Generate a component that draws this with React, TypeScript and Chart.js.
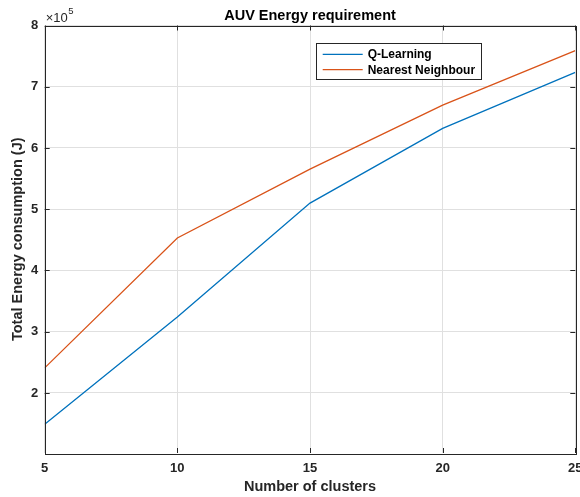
import React, { useEffect, useRef } from "react";
import { Chart, registerables } from "chart.js";

Chart.register(...registerables);

const clusters = [5, 10, 15, 20, 25];
const qLearning = [1.49, 3.24, 5.1, 6.32, 7.235];
const nearestNeighbour = [2.41, 4.53, 5.655, 6.7, 7.59];
const yTicks = [2, 3, 4, 5, 6, 7, 8];
const xTicks = [5, 10, 15, 20, 25];
const seriesNames = ["Q-Learning", "Nearest Neighbour"];
const seriesColors = ["#0072BD", "#D95319"];

const FONT = "'Liberation Sans', Arial, Helvetica, sans-serif";
const AX = "#262626";

const framePlugin = {
  id: "frame",
  afterDraw(chart: any) {
    const { ctx, chartArea: a, scales } = chart;
    const xs = scales.x;
    const ys = scales.y;
    ctx.save();
    // box
    ctx.strokeStyle = AX;
    ctx.lineWidth = 1;
    ctx.strokeRect(Math.round(a.left) + 0.5, Math.round(a.top) + 0.5, Math.round(a.right - a.left), Math.round(a.bottom - a.top));
    // inward ticks
    const tl = 5;
    ctx.beginPath();
    xTicks.forEach((v) => {
      const px = Math.round(xs.getPixelForValue(v)) + 0.5;
      ctx.moveTo(px, a.bottom);
      ctx.lineTo(px, a.bottom - tl);
      ctx.moveTo(px, a.top);
      ctx.lineTo(px, a.top + tl);
    });
    yTicks.forEach((v) => {
      const py = Math.round(ys.getPixelForValue(v)) + 0.5;
      ctx.moveTo(a.left, py);
      ctx.lineTo(a.left + tl, py);
      ctx.moveTo(a.right, py);
      ctx.lineTo(a.right - tl, py);
    });
    ctx.stroke();

    // title
    ctx.fillStyle = "#000";
    ctx.font = `bold 14.5px ${FONT}`;
    ctx.textAlign = "center";
    ctx.textBaseline = "alphabetic";
    ctx.fillText("AUV Energy requirement", (a.left + a.right) / 2, 20);

    // exponent label
    ctx.fillStyle = AX;
    ctx.textAlign = "left";
    ctx.font = `13px ${FONT}`;
    ctx.fillText("\u00d710", a.left + 1, 21.7);
    const w = ctx.measureText("\u00d710").width;
    ctx.font = `9.5px ${FONT}`;
    ctx.fillText("5", a.left + 1 + w + 0.5, 14);

    // legend
    const lx = 316.5, ly = 43.5, lw = 165, lh = 36;
    ctx.fillStyle = "#fff";
    ctx.fillRect(lx, ly, lw, lh);
    ctx.strokeStyle = AX;
    ctx.lineWidth = 1;
    ctx.strokeRect(lx, ly, lw, lh);
    const rows = [54.3, 69.7];
    seriesNames.forEach((name, i) => {
      ctx.strokeStyle = seriesColors[i];
      ctx.lineWidth = 1.3;
      ctx.beginPath();
      ctx.moveTo(322.7, rows[i]);
      ctx.lineTo(362.7, rows[i]);
      ctx.stroke();
      ctx.fillStyle = "#000";
      ctx.font = `bold 12px ${FONT}`;
      ctx.textAlign = "left";
      ctx.textBaseline = "middle";
      ctx.fillText(name, 367.7, rows[i] + 0.5);
    });
    ctx.restore();
  },
};

export default function App() {
  const ref = useRef<HTMLCanvasElement>(null);
  useEffect(() => {
    document.body.style.margin = "0";
    const canvas = ref.current!;
    const chart = new Chart(canvas, {
      type: "line",
      data: {
        datasets: [
          {
            label: seriesNames[0],
            data: clusters.map((x, i) => ({ x, y: qLearning[i] })),
            borderColor: seriesColors[0],
            borderWidth: 1.3,
            pointRadius: 0,
            fill: false,
            tension: 0,
          },
          {
            label: seriesNames[1],
            data: clusters.map((x, i) => ({ x, y: nearestNeighbour[i] })),
            borderColor: seriesColors[1],
            borderWidth: 1.3,
            pointRadius: 0,
            fill: false,
            tension: 0,
          },
        ],
      },
      options: {
        responsive: false,
        animation: false,
        devicePixelRatio: 1,
        layout: { padding: { top: 25.5, right: 4.7, left: 0, bottom: 0 } },
        plugins: {
          legend: { display: false },
          tooltip: { enabled: false },
          title: { display: false },
        },
        scales: {
          x: {
            type: "linear",
            min: 5,
            max: 25,
            afterBuildTicks: (s: any) => {
              s.ticks = xTicks.map((v) => ({ value: v }));
            },
            afterFit: (s: any) => {
              s.height = 44;
              s.paddingLeft = 0;
              s.paddingRight = 0;
            },
            ticks: {
              color: AX,
              font: { family: FONT, size: 13, weight: "bold" },
              padding: 8,
              maxRotation: 0,
              autoSkip: false,
            },
            grid: { color: "#e0e0e0", drawTicks: false, lineWidth: 1 },
            border: { display: false },
            title: {
              display: true,
              text: "Number of clusters",
              color: AX,
              font: { family: FONT, size: 14.5, weight: "bold" },
              padding: { top: 0, bottom: 1.3 },
            },
          },
          y: {
            type: "linear",
            min: 1.02,
            max: 8,
            afterBuildTicks: (s: any) => {
              s.ticks = yTicks.map((v) => ({ value: v }));
            },
            afterFit: (s: any) => {
              s.width = 44.7;
              s.paddingTop = 0;
              s.paddingBottom = 0;
            },
            ticks: {
              color: AX,
              font: { family: FONT, size: 13, weight: "bold" },
              padding: 6.5,
              autoSkip: false,
            },
            grid: { color: "#e0e0e0", drawTicks: false, lineWidth: 1 },
            border: { display: false },
            title: {
              display: true,
              text: "Total Energy consumption (J)",
              color: AX,
              font: { family: FONT, size: 14.5, weight: "bold" },
              padding: { top: 9, bottom: 0 },
            },
          },
        },
      },
      plugins: [framePlugin],
    } as any);
    return () => chart.destroy();
  }, []);
  return <canvas ref={ref} width={580} height={497} style={{ display: "block" }} />;
}
